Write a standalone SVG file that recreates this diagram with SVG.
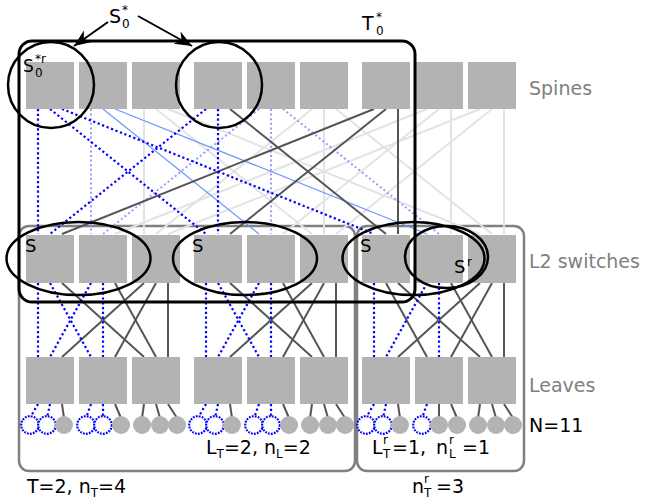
<svg xmlns="http://www.w3.org/2000/svg" width="645" height="504" viewBox="0 0 645 504">
  <style>
    .sw { fill: #b3b3b3; }
    .host { fill: #b3b3b3; }
    .hsel { fill: #ffffff; stroke: #0000ff; stroke-width: 2.2; stroke-dasharray: 1.8 1.2; }
    .lg { stroke: #e3e3e3; stroke-width: 2; fill: none; }
    .dk { stroke: #555555; stroke-width: 2; fill: none; }
    .lbs { stroke: #6a96ff; stroke-width: 1.2; fill: none; }
    .lbd { stroke: #9a9aff; stroke-width: 2; stroke-dasharray: 2 2.6; fill: none; }
    .bd { stroke: #0000ff; stroke-width: 2.2; stroke-dasharray: 2.2 2.6; fill: none; }
    .pod { fill: none; stroke: #808080; stroke-width: 2.5; }
    .tree { fill: none; stroke: #000000; stroke-width: 3; }
    .ring { fill: none; stroke: #000000; stroke-width: 2.5; }
    text { font-family: "DejaVu Sans", "Liberation Sans", sans-serif; fill: #000000; }
    .side { font-size: 19px; fill: #808080; }
    .lab { font-size: 19px; }
    .sm { font-size: 12px; }
  </style>
  <defs>
    <marker id="head" viewBox="-18 -8 19 16" refX="0" refY="0" markerWidth="19" markerHeight="16" markerUnits="userSpaceOnUse" orient="auto">
      <path d="M0,0 L-17,-7 L-12,0 L-17,7 Z" fill="#000000"/>
    </marker>
  </defs>

  <!-- pod enclosures -->
  <g id="pods">
    <rect class="pod" x="19" y="226" width="336" height="245" rx="10"/>
    <rect class="pod" x="357" y="226" width="167" height="245" rx="10"/>
  </g>

  <!-- links -->
  <g id="connectors">
    <!-- spine to L2, light gray -->
    <g class="lg">
      <line x1="427" y1="109" x2="115" y2="234"/>
      <line x1="439" y1="109" x2="283" y2="234"/>
      <line x1="451" y1="109" x2="451" y2="234"/>
      <line x1="144" y1="109" x2="144" y2="234"/>
      <line x1="156" y1="109" x2="312" y2="234"/>
      <line x1="168" y1="109" x2="480" y2="234"/>
      <line x1="312" y1="109" x2="156" y2="234"/>
      <line x1="324" y1="109" x2="324" y2="234"/>
      <line x1="336" y1="109" x2="492" y2="234"/>
      <line x1="480" y1="109" x2="168" y2="234"/>
      <line x1="492" y1="109" x2="336" y2="234"/>
      <line x1="504" y1="109" x2="504" y2="234"/>
    </g>
    <!-- spine to L2, light blue -->
    <g class="lbs">
      <line x1="103" y1="109" x2="259" y2="234"/>
      <line x1="115" y1="109" x2="427" y2="234"/>
    </g>
    <g class="lbd">
      <line x1="91" y1="109" x2="91" y2="234"/>
      <line x1="259" y1="109" x2="103" y2="234"/>
      <line x1="271" y1="109" x2="271" y2="234"/>
      <line x1="283" y1="109" x2="439" y2="234"/>
    </g>
    <!-- spine to L2, dark -->
    <g class="dk">
      <line x1="230" y1="109" x2="386" y2="234"/>
      <line x1="374" y1="109" x2="62" y2="234"/>
      <line x1="386" y1="109" x2="230" y2="234"/>
      <line x1="398" y1="109" x2="398" y2="234"/>
    </g>
    <!-- spine to L2, selected -->
    <g class="bd">
      <line x1="38" y1="109" x2="38" y2="234"/>
      <line x1="50" y1="109" x2="206" y2="234"/>
      <line x1="62" y1="109" x2="374" y2="234"/>
      <line x1="206" y1="109" x2="50" y2="234"/>
      <line x1="218" y1="109" x2="218" y2="234"/>
    </g>

    <!-- L2 to leaves -->
    <g class="dk">
      <line x1="62" y1="283" x2="144" y2="357"/>
      <line x1="115" y1="283" x2="156" y2="357"/>
      <line x1="144" y1="283" x2="62" y2="357"/>
      <line x1="156" y1="283" x2="115" y2="357"/>
      <line x1="168" y1="283" x2="168" y2="357"/>
      <line x1="230" y1="283" x2="312" y2="357"/>
      <line x1="283" y1="283" x2="324" y2="357"/>
      <line x1="312" y1="283" x2="230" y2="357"/>
      <line x1="324" y1="283" x2="283" y2="357"/>
      <line x1="336" y1="283" x2="336" y2="357"/>
      <line x1="386" y1="283" x2="427" y2="357"/>
      <line x1="398" y1="283" x2="480" y2="357"/>
      <line x1="451" y1="283" x2="492" y2="357"/>
      <line x1="480" y1="283" x2="398" y2="357"/>
      <line x1="492" y1="283" x2="451" y2="357"/>
      <line x1="504" y1="283" x2="504" y2="357"/>
    </g>
    <g class="bd">
      <line x1="38" y1="283" x2="38" y2="357"/>
      <line x1="50" y1="283" x2="91" y2="357"/>
      <line x1="91" y1="283" x2="50" y2="357"/>
      <line x1="103" y1="283" x2="103" y2="357"/>
      <line x1="206" y1="283" x2="206" y2="357"/>
      <line x1="218" y1="283" x2="259" y2="357"/>
      <line x1="259" y1="283" x2="218" y2="357"/>
      <line x1="271" y1="283" x2="271" y2="357"/>
      <line x1="374" y1="283" x2="374" y2="357"/>
      <line x1="427" y1="283" x2="386" y2="357"/>
      <line x1="439" y1="283" x2="439" y2="357"/>
    </g>

    <!-- leaves to hosts -->
    <g class="dk">
      <line x1="62" y1="404" x2="64" y2="418"/>
      <line x1="115" y1="404" x2="121" y2="418"/>
      <line x1="144" y1="404" x2="142" y2="418"/>
      <line x1="156" y1="404" x2="160" y2="418"/>
      <line x1="168" y1="404" x2="177" y2="418"/>
      <line x1="230" y1="404" x2="232" y2="418"/>
      <line x1="283" y1="404" x2="289" y2="418"/>
      <line x1="312" y1="404" x2="310" y2="418"/>
      <line x1="324" y1="404" x2="328" y2="418"/>
      <line x1="336" y1="404" x2="345" y2="418"/>
      <line x1="398" y1="404" x2="400" y2="418"/>
      <line x1="439" y1="404" x2="439" y2="418"/>
      <line x1="451" y1="404" x2="457" y2="418"/>
      <line x1="480" y1="404" x2="478" y2="418"/>
      <line x1="492" y1="404" x2="496" y2="418"/>
      <line x1="504" y1="404" x2="513" y2="418"/>
    </g>
    <g class="bd">
      <line x1="38" y1="404" x2="30" y2="418"/>
      <line x1="50" y1="404" x2="47" y2="418"/>
      <line x1="91" y1="404" x2="86" y2="418"/>
      <line x1="103" y1="404" x2="103" y2="418"/>
      <line x1="206" y1="404" x2="198" y2="418"/>
      <line x1="218" y1="404" x2="215" y2="418"/>
      <line x1="259" y1="404" x2="254" y2="418"/>
      <line x1="271" y1="404" x2="271" y2="418"/>
      <line x1="374" y1="404" x2="366" y2="418"/>
      <line x1="386" y1="404" x2="383" y2="418"/>
      <line x1="427" y1="404" x2="422" y2="418"/>
    </g>
  </g>

  <!-- spine switches -->
  <g id="spines">
    <rect id="spine1" class="sw" x="26" y="62" width="48" height="47"/>
    <rect id="spine2" class="sw" x="79" y="62" width="48" height="47"/>
    <rect id="spine3" class="sw" x="132" y="62" width="48" height="47"/>
    <rect id="spine4" class="sw" x="194" y="62" width="48" height="47"/>
    <rect id="spine5" class="sw" x="247" y="62" width="48" height="47"/>
    <rect id="spine6" class="sw" x="300" y="62" width="48" height="47"/>
    <rect id="spine7" class="sw" x="362" y="62" width="48" height="47"/>
    <rect id="spine8" class="sw" x="415" y="62" width="48" height="47"/>
    <rect id="spine9" class="sw" x="468" y="62" width="48" height="47"/>
  </g>

  <!-- L2 switches -->
  <g id="l2">
    <rect id="l2-1" class="sw" x="26" y="235" width="48" height="48"/>
    <rect id="l2-2" class="sw" x="79" y="235" width="48" height="48"/>
    <rect id="l2-3" class="sw" x="132" y="235" width="48" height="48"/>
    <rect id="l2-4" class="sw" x="194" y="235" width="48" height="48"/>
    <rect id="l2-5" class="sw" x="247" y="235" width="48" height="48"/>
    <rect id="l2-6" class="sw" x="300" y="235" width="48" height="48"/>
    <rect id="l2-7" class="sw" x="362" y="235" width="48" height="48"/>
    <rect id="l2-8" class="sw" x="415" y="235" width="48" height="48"/>
    <rect id="l2-9" class="sw" x="468" y="235" width="48" height="48"/>
  </g>

  <!-- leaf switches -->
  <g id="leaves">
    <rect id="leaf1" class="sw" x="26" y="357" width="48" height="47"/>
    <rect id="leaf2" class="sw" x="79" y="357" width="48" height="47"/>
    <rect id="leaf3" class="sw" x="132" y="357" width="48" height="47"/>
    <rect id="leaf4" class="sw" x="194" y="357" width="48" height="47"/>
    <rect id="leaf5" class="sw" x="247" y="357" width="48" height="47"/>
    <rect id="leaf6" class="sw" x="300" y="357" width="48" height="47"/>
    <rect id="leaf7" class="sw" x="362" y="357" width="48" height="47"/>
    <rect id="leaf8" class="sw" x="415" y="357" width="48" height="47"/>
    <rect id="leaf9" class="sw" x="468" y="357" width="48" height="47"/>
  </g>

  <!-- hosts -->
  <g id="hosts">
    <circle class="hsel" cx="30" cy="425" r="8.8"/>
    <circle class="hsel" cx="47" cy="425" r="8.8"/>
    <circle class="host" cx="64" cy="425" r="9"/>
    <circle class="hsel" cx="86" cy="425" r="8.8"/>
    <circle class="hsel" cx="103" cy="425" r="8.8"/>
    <circle class="host" cx="121" cy="425" r="9"/>
    <circle class="host" cx="142" cy="425" r="9"/>
    <circle class="host" cx="160" cy="425" r="9"/>
    <circle class="host" cx="177" cy="425" r="9"/>
    <circle class="hsel" cx="198" cy="425" r="8.8"/>
    <circle class="hsel" cx="215" cy="425" r="8.8"/>
    <circle class="host" cx="232" cy="425" r="9"/>
    <circle class="hsel" cx="254" cy="425" r="8.8"/>
    <circle class="hsel" cx="271" cy="425" r="8.8"/>
    <circle class="host" cx="289" cy="425" r="9"/>
    <circle class="host" cx="310" cy="425" r="9"/>
    <circle class="host" cx="328" cy="425" r="9"/>
    <circle class="host" cx="345" cy="425" r="9"/>
    <circle class="hsel" cx="366" cy="425" r="8.8"/>
    <circle class="hsel" cx="383" cy="425" r="8.8"/>
    <circle class="host" cx="400" cy="425" r="9"/>
    <circle class="hsel" cx="422" cy="425" r="8.8"/>
    <circle class="host" cx="439" cy="425" r="9"/>
    <circle class="host" cx="457" cy="425" r="9"/>
    <circle class="host" cx="478" cy="425" r="9"/>
    <circle class="host" cx="496" cy="425" r="9"/>
    <circle class="host" cx="513" cy="425" r="9"/>
  </g>

  <!-- T0* enclosure -->
  <g id="tree">
    <rect class="tree" x="19" y="41" width="396" height="261" rx="13"/>
    <text class="lab" x="362" y="30">T<tspan class="sm" x="376" y="21">*</tspan><tspan class="sm" x="376" y="35">0</tspan></text>
  </g>

  <!-- selections -->
  <g id="sel-spines">
    <circle class="ring" cx="51" cy="85" r="43"/>
    <circle class="ring" cx="219" cy="85" r="43"/>
    <text class="lab" x="23" y="72" style="font-size:17px">S<tspan class="sm" x="35" y="63">*r</tspan><tspan class="sm" x="35" y="77">0</tspan></text>
  </g>
  <g id="sel-l2">
    <ellipse class="ring" cx="78.5" cy="258.5" rx="72" ry="36.5"/>
    <ellipse class="ring" cx="245" cy="258.5" rx="72" ry="36.5"/>
    <ellipse class="ring" cx="413.5" cy="258.5" rx="71" ry="36.5"/>
    <ellipse class="ring" cx="446.5" cy="257" rx="41.5" ry="31"/>
    <text class="lab" x="25" y="252" style="font-size:18px">S</text>
    <text class="lab" x="192" y="252" style="font-size:18px">S</text>
    <text class="lab" x="360" y="252" style="font-size:18px">S</text>
    <text class="lab" x="454" y="273" style="font-size:18px">S<tspan class="sm" x="467" y="266">r</tspan></text>
  </g>

  <!-- S0* label with pointers -->
  <g id="s0-label">
    <text class="lab" x="109" y="23">S<tspan class="sm" x="122" y="14">*</tspan><tspan class="sm" x="122" y="28">0</tspan></text>
    <line x1="108" y1="22" x2="74" y2="46" stroke="#000" stroke-width="2" marker-end="url(#head)"/>
    <line x1="138" y1="16" x2="192" y2="46" stroke="#000" stroke-width="2" marker-end="url(#head)"/>
  </g>

  <!-- tier labels -->
  <g id="tiers">
    <text class="side" x="529" y="95">Spines</text>
    <text class="side" x="529" y="268">L2 switches</text>
    <text class="side" x="529" y="392">Leaves</text>
    <text class="lab" x="529" y="432">N=11</text>
  </g>

  <!-- parameter labels -->
  <g id="params">
    <text class="lab" x="27" y="493">T=2, n<tspan class="sm" dy="4">T</tspan><tspan dy="-4">=4</tspan></text>
    <text class="lab" x="206" y="454">L<tspan class="sm" dy="4">T</tspan><tspan dy="-4">=2, n</tspan><tspan class="sm" dy="4">L</tspan><tspan dy="-4">=2</tspan></text>
    <text class="lab" x="372" y="454">L<tspan class="sm" x="383" y="444">r</tspan><tspan class="sm" x="383" y="458">T</tspan><tspan x="392" y="454">=1,</tspan><tspan x="436" y="454">n</tspan><tspan class="sm" x="449" y="444">r</tspan><tspan class="sm" x="449" y="458">L</tspan><tspan x="462" y="454">=1</tspan></text>
    <text class="lab" x="412" y="493">n<tspan class="sm" x="424" y="483">r</tspan><tspan class="sm" x="424" y="497">T</tspan><tspan x="436" y="493">=3</tspan></text>
  </g>
</svg>
